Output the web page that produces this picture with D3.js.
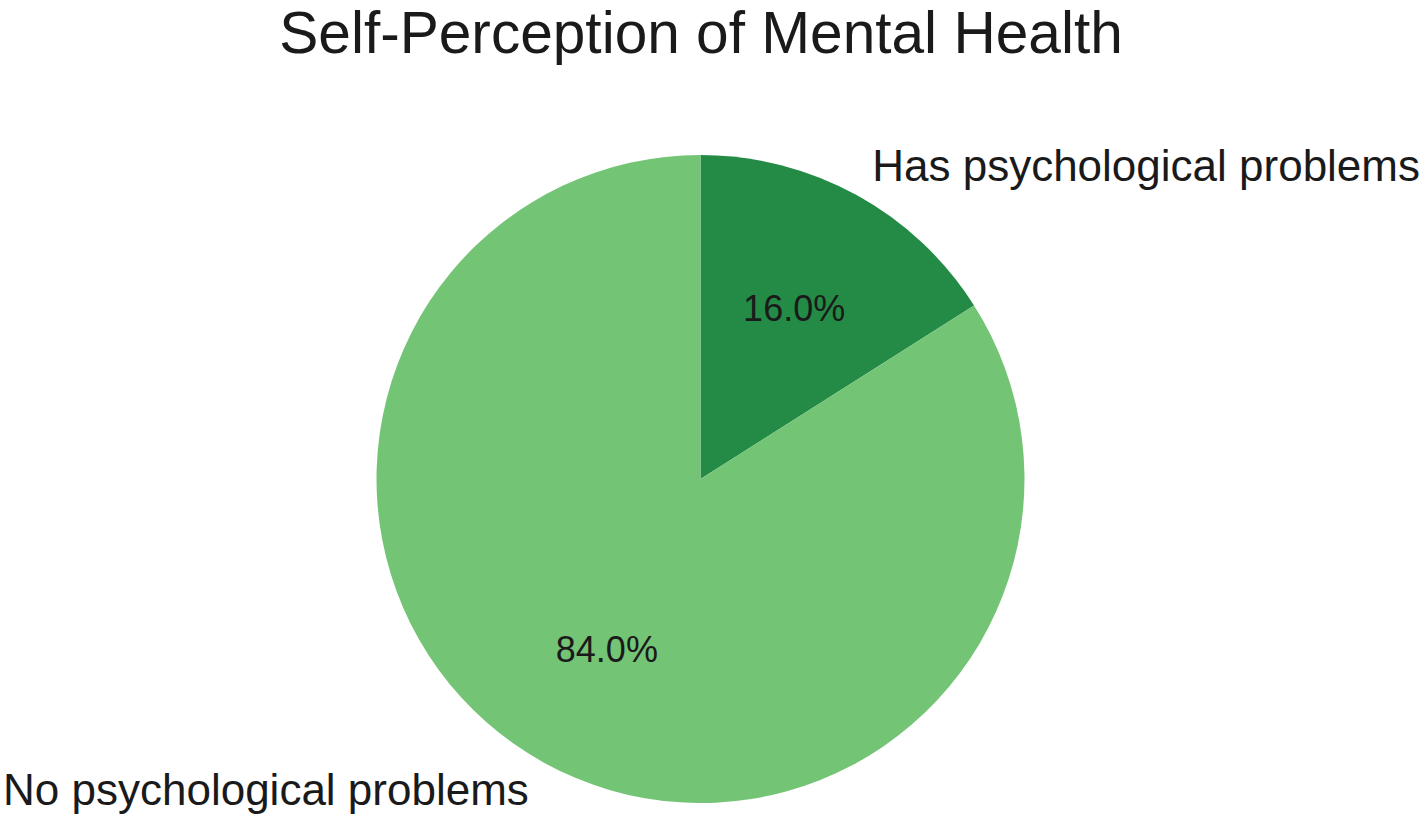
<!DOCTYPE html>
<html>
<head>
<meta charset="utf-8">
<script src="https://cdn.jsdelivr.net/npm/d3@7"></script>
<style>
  body { margin: 0; background: #fff; }
  text { font-family: "Liberation Sans", Arial, sans-serif; fill: #1a1a1a; }
</style>
</head>
<body>
<svg id="chart"></svg>
<script>
const labels = ["Has psychological problems", "No psychological problems"];
const values = [16.0, 84.0];
const colors = ["#238b45", "#74c476"];

const width = 1426, height = 827;
const cx = 700.5, cy = 479, radius = 324;

let svg = d3.select("#chart").attr("width", width).attr("height", height);

let data = labels.map((l, i) => ({label: l, value: values[i], color: colors[i]}));

// clockwise from 12 o'clock, like matplotlib startangle=90 counterclock=False
let pie = d3.pie().value(d => d.value).sort(null);
let arcs = pie(data);

let arc = d3.arc().innerRadius(0).outerRadius(radius);

let g = svg.append("g").attr("transform", `translate(${cx},${cy})`);

g.selectAll("path")
    .data(arcs)
    .enter().append("path")
    .attr("d", arc)
    .attr("fill", d => d.data.color);

function mid(d) { return (d.startAngle + d.endAngle) / 2; }

// category labels at 1.1 r
g.selectAll("text.lbl")
    .data(arcs)
    .enter().append("text")
    .attr("class", "lbl")
    .attr("x", d => Math.sin(mid(d)) * radius * 1.1)
    .attr("y", d => -Math.cos(mid(d)) * radius * 1.1)
    .attr("dy", "0.32em")
    .attr("text-anchor", d => Math.sin(mid(d)) > 0 ? "start" : "end")
    .style("font-size", "44px")
    .text(d => d.data.label);

// percentages at 0.6 r
g.selectAll("text.pct")
    .data(arcs)
    .enter().append("text")
    .attr("class", "pct")
    .attr("x", d => Math.sin(mid(d)) * radius * 0.6)
    .attr("y", d => -Math.cos(mid(d)) * radius * 0.6)
    .attr("dy", "0.35em")
    .attr("text-anchor", "middle")
    .style("font-size", "36px")
    .text(d => d.data.value.toFixed(1) + "%");

svg.append("text")
    .attr("x", 701)
    .attr("y", 53)
    .attr("text-anchor", "middle")
    .style("font-size", "58.6px")
    .text("Self-Perception of Mental Health");
</script>
</body>
</html>
